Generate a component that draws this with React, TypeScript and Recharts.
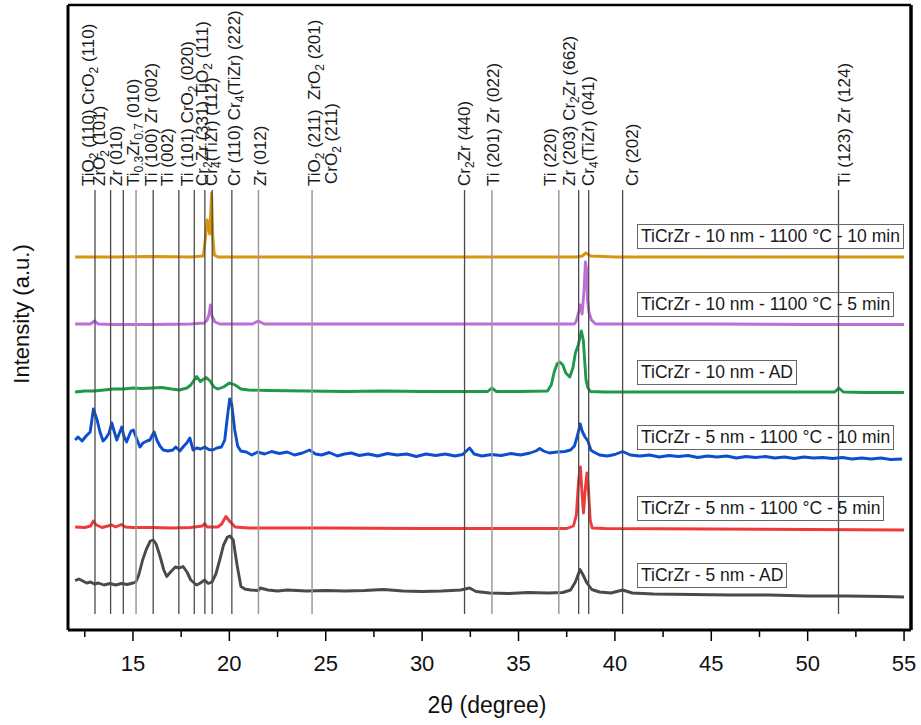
import React from "react";
import { LineChart, Line, XAxis, YAxis, ReferenceLine } from "recharts";

// XRD patterns, 2θ in degrees, intensity in arbitrary units (traces stacked with offsets)
const orangeX = [12, 14, 16, 18, 18.65, 18.76, 18.85, 18.92, 18.98, 19.03, 19.08, 19.14, 19.22, 19.4, 20, 25, 30, 35, 38, 38.3, 38.5, 38.75, 40, 45, 50, 55];
const orangeY = [373, 373, 373.5, 373, 374, 392, 410, 402, 396, 416, 437, 394, 375, 373, 373, 373, 373, 373, 373, 374, 377, 374, 373, 373, 373, 373];

const purpleX = [12, 12.8, 13.0, 13.2, 14, 16, 18, 18.7, 18.85, 18.95, 19.02, 19.1, 19.25, 19.5, 21.2, 21.5, 21.8, 25, 30, 35, 37.9, 38.0, 38.12, 38.2, 38.3, 38.4, 38.47, 38.52, 38.58, 38.65, 38.78, 39.0, 45, 50, 55];
const purpleY = [306, 306, 309, 306, 305.5, 305.5, 306, 307, 310, 316, 325, 314, 308, 306, 306, 309, 306, 306, 306, 306, 306, 309, 318, 325, 316, 340, 368, 362, 330, 318, 310, 306, 306, 305.5, 305.5];

const greenX = [12, 12.5, 13.0, 13.5, 14, 14.5, 15, 15.5, 16, 16.5, 17, 17.4, 17.8, 18.0, 18.3, 18.5, 18.6, 18.8, 19.0, 19.2, 19.4, 19.7, 20.0, 20.3, 20.6, 21, 22, 24, 26, 28, 30, 32, 33.4, 33.62, 33.85, 35, 36.5, 36.7, 36.85, 37.0, 37.14, 37.3, 37.45, 37.66, 37.82, 37.95, 38.1, 38.26, 38.36, 38.5, 38.6, 38.73, 39.5, 41, 45, 50, 51.4, 51.62, 51.85, 53, 55];
const greenY = [238, 239, 239, 240, 241, 241, 242, 241.5, 242, 242.5, 241, 240, 242, 245, 253.5, 248.5, 250, 252.5, 249, 243, 241, 243, 247, 245, 241, 240, 239.5, 239, 238.5, 239, 238.5, 238.5, 238.5, 242, 238.5, 238.5, 239, 245, 258, 266, 268, 265, 257, 253, 262, 277, 285, 299, 290, 250, 242, 238.5, 238, 238, 238, 238, 238, 242, 238, 237.5, 237.5];

const blueX = [12.0, 12.15, 12.36, 12.57, 12.78, 12.95, 13.14, 13.29, 13.45, 13.6, 13.76, 13.9, 14.02, 14.16, 14.28, 14.42, 14.53, 14.67, 14.79, 14.9, 15.02, 15.16, 15.36, 15.52, 15.72, 15.88, 15.98, 16.1, 16.24, 16.4, 16.57, 16.81, 17.07, 17.22, 17.43, 17.64, 17.79, 17.95, 18.12, 18.31, 18.52, 18.72, 18.93, 19.14, 19.35, 19.59, 19.76, 19.91, 20.02, 20.12, 20.28, 20.43, 20.59, 20.88, 21.16, 21.47, 21.83, 22.19, 22.6, 23.0, 23.38, 23.79, 24.16, 24.47, 24.78, 25.19, 25.6, 25.97, 26.33, 26.74, 27.2, 27.7, 28.2, 28.7, 29.2, 29.7, 30.2, 30.7, 31.2, 31.7, 32.1, 32.46, 32.7, 33.1, 33.6, 34.1, 34.6, 35.1, 35.6, 35.9, 36.1, 36.3, 36.6, 37.0, 37.4, 37.7, 37.9, 38.05, 38.2, 38.3, 38.45, 38.6, 38.75, 38.9, 39.2, 39.6, 40.0, 40.4, 40.8, 41.3, 41.8, 42.3, 42.8, 43.3, 43.8, 44.3, 44.8, 45.3, 45.8, 46.3, 46.8, 47.3, 47.8, 48.3, 48.8, 49.3, 49.8, 50.3, 50.8, 51.3, 51.8, 52.3, 52.8, 53.3, 53.8, 54.3, 54.9];
const blueY = [190, 193, 189, 194, 198, 221, 210, 198, 189, 192, 197, 207, 199, 190, 196, 203, 194, 188, 194, 199, 200, 193, 183, 187, 189, 190, 194, 198, 190, 184, 180, 179, 180, 183, 179, 184, 187, 192, 180, 182, 181, 183, 180.5, 180, 182, 183, 190, 215, 231, 226, 200, 184, 179, 178, 175, 178, 176, 178.5, 176.5, 178, 175, 177, 180, 176, 175, 177.5, 174, 176, 177, 174.5, 176, 174, 176.5, 175, 176, 173.5, 176, 174.5, 176, 174, 175.5, 182, 176, 174, 175.5, 174.5, 176.5, 175, 177, 179, 181.5, 179, 177, 178, 178.5, 180, 184, 194, 206, 199, 193, 189, 180, 178, 175, 174, 175.5, 178.5, 175, 174, 175, 173, 174.5, 173.5, 174.5, 172.5, 174, 173, 174, 172, 173.5, 172.5, 173.5, 172, 173, 171.5, 173, 172, 172.5, 171.5, 172.5, 171, 172, 171, 172, 170.5, 171];

const redX = [12, 12.5, 12.8, 12.95, 13.1, 13.4, 13.9, 14.1, 14.4, 14.6, 15, 16, 17, 18, 18.6, 18.72, 18.85, 19.4, 19.6, 19.82, 20.05, 20.3, 21, 25, 30, 35, 37.5, 37.85, 38.0, 38.12, 38.21, 38.3, 38.37, 38.46, 38.55, 38.63, 38.72, 38.82, 39.5, 45, 50, 55];
const redY = [103, 102.5, 104, 109, 105, 102.5, 105, 103, 105.5, 103, 102.5, 102.5, 102, 102.5, 104, 106.5, 103, 103, 106, 113.5, 108, 103, 102, 102, 101.5, 101.5, 101.5, 104, 115, 150, 163, 135, 117, 140, 157, 140, 110, 102, 101.5, 101, 100.5, 100];

const grayX = [12.0, 12.2, 12.4, 12.6, 12.8, 13.0, 13.2, 13.5, 13.8, 14.1, 14.4, 14.7, 15.0, 15.15, 15.3, 15.5, 15.7, 15.9, 16.05, 16.2, 16.4, 16.6, 16.75, 16.95, 17.2, 17.4, 17.6, 17.8, 18.0, 18.3, 18.5, 18.72, 18.9, 19.1, 19.3, 19.5, 19.7, 19.9, 20.03, 20.2, 20.4, 20.6, 20.8, 21.1, 21.5, 21.6, 22, 22.5, 23, 24, 25, 26, 27, 28, 29, 30, 31, 32, 32.46, 32.8, 33.5, 34.5, 35.5, 36.5, 37.3, 37.7, 37.95, 38.19, 38.35, 38.55, 38.8, 39.2, 39.8, 40.4, 40.9, 42, 44, 46, 48, 50, 52, 54, 55];
const grayY = [49.3, 51, 49, 47, 48, 46, 47, 45, 46.5, 45, 46.5, 45.5, 47, 48, 55, 70, 81, 89, 90, 86, 74, 60, 53.5, 58, 63, 62, 63.5, 58, 50, 45, 47, 50, 46.5, 48, 56, 70, 85, 93, 94, 90, 65, 43.5, 41, 40, 39.5, 42, 40, 39, 40, 39, 39.5, 39, 39.5, 40.5, 39, 38.5, 39, 40, 42, 38.5, 37, 36.5, 37.5, 37, 37.5, 40, 48, 60.5, 55, 47, 40.5, 38, 37, 40, 37, 36, 35.5, 35, 35, 34, 34, 33.5, 33];

const sampleNames = [
  "TiCrZr - 10 nm - 1100 °C - 10 min",
  "TiCrZr - 10 nm - 1100 °C - 5 min",
  "TiCrZr - 10 nm - AD",
  "TiCrZr - 5 nm - 1100 °C - 10 min",
  "TiCrZr - 5 nm - 1100 °C - 5 min",
  "TiCrZr - 5 nm - AD",
];

// reflection positions (2θ) and their phase labels; "_x" / "_{..}" marks a subscript
const peakPos = [13.03, 13.84, 14.5, 15.16, 16.05, 17.38, 18.18, 18.73, 19.11, 20.13, 21.51, 24.29, 32.2, 33.62, 37.09, 38.12, 38.64, 40.4, 51.6];
const peakLabels = [
  ["TiO_2 (110) CrO_2 (110)"],
  ["ZrO_2 (101)"],
  ["Zr (010)"],
  ["Ti_{0.3}Zr_{0.7} (010)"],
  ["Ti (100) Zr (002)"],
  ["Ti (002)"],
  ["Ti (101) CrO_2 (020)"],
  ["Cr_2Zr (331) TiO_2 (111)"],
  ["Cr_4(TiZr) (112)"],
  ["Cr (110) Cr_4(TiZr) (222)"],
  ["Zr (012)"],
  ["TiO_2 (211)  ZrO_2 (201)", "CrO_2 (211)"],
  ["Cr_2Zr (440)"],
  ["Ti (201) Zr (022)"],
  ["Ti (220)"],
  ["Zr (203) Cr_2Zr (662)"],
  ["Cr_4(TiZr) (041)"],
  ["Cr (202)"],
  ["Ti (123) Zr (124)"],
];

const xTicks = [12.5, 15, 17.5, 20, 22.5, 25, 27.5, 30, 32.5, 35, 37.5, 40, 42.5, 45, 47.5, 50, 52.5, 55];

const zip = (xs: number[], ys: number[]) => xs.map((x, i) => ({ x, y: ys[i] }));

const series = [
  { name: sampleNames[0], data: zip(orangeX, orangeY), color: "#D8950F" },
  { name: sampleNames[1], data: zip(purpleX, purpleY), color: "#BC6DD8" },
  { name: sampleNames[2], data: zip(greenX, greenY), color: "#1C9A4A" },
  { name: sampleNames[3], data: zip(blueX, blueY), color: "#0B4FD0" },
  { name: sampleNames[4], data: zip(redX, redY), color: "#F03A3A" },
  { name: sampleNames[5], data: zip(grayX, grayY), color: "#4A4A4A" },
];

const FONT = "'Liberation Sans', Arial, sans-serif";
const X_DOMAIN: [number, number] = [11.63, 55.36];
const LABEL_DX = [-1, -5.5, -1.5, 2.5, 3.5, -5.5, -1, 3.5, 4.5, 8, 8, 8, 5, 7.5, -2.5, -4, 5.5, 15, 11];
const LIGHT = new Set([3, 10, 11, 13, 14]);
const LEGEND_TOP = [224, 292, 360, 425, 496, 563];

function withSubs(s: string) {
  const parts = s.split(/(_\{[^}]*\}|_.)/).filter((p) => p !== "");
  let low = false;
  return parts.map((p, i) => {
    if (p.startsWith("_")) {
      const t = p.startsWith("_{") ? p.slice(2, -1) : p.slice(1);
      const dy = low ? 0 : 4;
      low = true;
      return (
        <tspan key={i} dy={dy} fontSize={12}>
          {t}
        </tspan>
      );
    }
    const dy = low ? -4 : 0;
    low = false;
    return (
      <tspan key={i} dy={dy}>
        {p}
      </tspan>
    );
  });
}

function PeakLabel(props: any) {
  const { viewBox, idx } = props;
  if (!viewBox) return null;
  const bx = viewBox.x + LABEL_DX[idx];
  const by = viewBox.y - 4;
  return (
    <g transform={`translate(${bx},${by}) rotate(-90)`}>
      {peakLabels[idx].map((line, j) => (
        <text
          key={j}
          x={j * 2}
          y={j * 17}
          fontSize={17}
          fill="#1a1a1a"
          fontFamily={FONT}
          style={{ whiteSpace: "pre" }}
        >
          {withSubs(line)}
        </text>
      ))}
    </g>
  );
}

function AxisTick(props: any) {
  const { x, y, payload } = props;
  const major = payload.value % 5 === 0;
  return (
    <g>
      <line x1={x} x2={x} y1={y} y2={y + (major ? 11 : 7)} stroke="#000" strokeWidth={1.5} />
      {major && (
        <text x={x} y={y + 41} textAnchor="middle" fontSize={22} fill="#111" fontFamily={FONT}>
          {payload.value}
        </text>
      )}
    </g>
  );
}

export default function App() {
  return (
    <div style={{ position: "absolute", left: 0, top: 0, width: 921, height: 725, background: "#fff" }}>
      <LineChart width={921} height={725} margin={{ top: 4, right: 9, bottom: 35, left: 67 }}>
        <XAxis
          dataKey="x"
          type="number"
          domain={X_DOMAIN}
          ticks={xTicks}
          interval={0}
          height={60}
          tickSize={0}
          tickMargin={0}
          tick={<AxisTick />}
          axisLine={{ stroke: "#000", strokeWidth: 3 }}
          allowDataOverflow
        />
        <XAxis
          xAxisId="top"
          orientation="top"
          type="number"
          domain={X_DOMAIN}
          height={1}
          tick={false}
          tickLine={false}
          axisLine={{ stroke: "#000", strokeWidth: 2.5 }}
        />
        <YAxis
          type="number"
          domain={[0, 625]}
          width={1}
          tick={false}
          tickLine={false}
          axisLine={{ stroke: "#000", strokeWidth: 3 }}
          allowDataOverflow
        />
        <YAxis
          yAxisId="right"
          orientation="right"
          type="number"
          domain={[0, 625]}
          width={1}
          tick={false}
          tickLine={false}
          axisLine={{ stroke: "#000", strokeWidth: 3.5 }}
        />
        {series.map((s) => (
          <Line
            key={s.name}
            data={s.data}
            dataKey="y"
            name={s.name}
            type="linear"
            stroke={s.color}
            strokeWidth={2.9}
            strokeLinejoin="round"
            dot={false}
            activeDot={false}
            isAnimationActive={false}
          />
        ))}
        {peakPos.map((p, i) => (
          <ReferenceLine
            key={`pk-${i}`}
            segment={[
              { x: p, y: 440 },
              { x: p, y: 16 },
            ]}
            stroke={LIGHT.has(i) ? "#9a9a9a" : "#4a4a4a"}
            strokeWidth={LIGHT.has(i) ? 1.5 : 1.3}
            label={(lp: any) => <PeakLabel {...lp} idx={i} />}
          />
        ))}
      </LineChart>

      {sampleNames.map((n, i) => (
        <div
          key={n}
          style={{
            position: "absolute",
            left: 637,
            top: LEGEND_TOP[i],
            border: "1px solid #666",
            padding: "0 3px",
            fontFamily: FONT,
            fontSize: 17.5,
            lineHeight: "23px",
            color: "#1a1a1a",
            whiteSpace: "nowrap",
          }}
        >
          {n}
        </div>
      ))}

      <svg width={921} height={725} style={{ position: "absolute", left: 0, top: 0, pointerEvents: "none" }}>
        <text
          transform="translate(29,314) rotate(-90)"
          textAnchor="middle"
          fontSize={22}
          fill="#111"
          fontFamily={FONT}
        >
          Intensity (a.u.)
        </text>
        <text x={487} y={713} textAnchor="middle" fontSize={23} fill="#111" fontFamily={FONT}>
          2θ (degree)
        </text>
      </svg>
    </div>
  );
}
